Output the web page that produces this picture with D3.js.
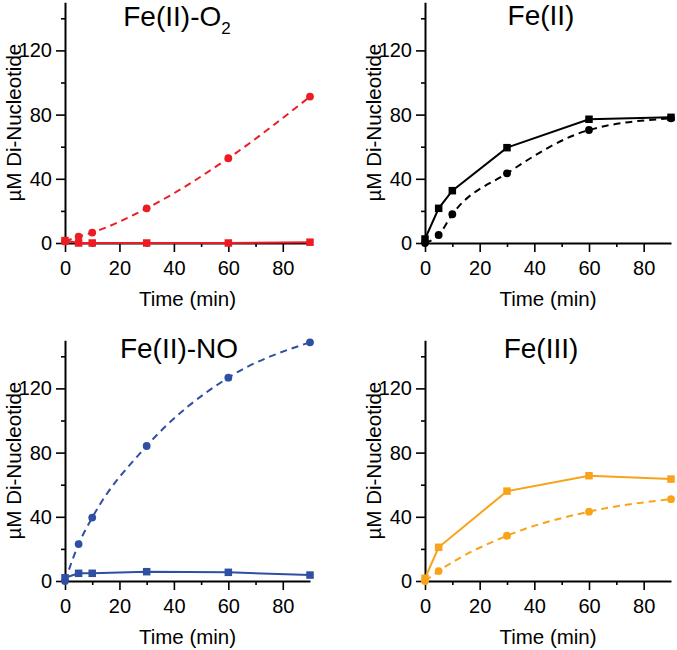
<!DOCTYPE html>
<html>
<head>
<meta charset="utf-8">
<script src="https://cdn.jsdelivr.net/npm/d3@7"></script>
<style>
  html, body { margin: 0; padding: 0; background: #fff; }
  svg { display: block; }
  text { font-family: "Liberation Sans", Arial, Helvetica, sans-serif; fill: #000; }
</style>
</head>
<body>
<svg id="chart" width="677" height="650"></svg>
<script>
// ---- data ----
const times = [0, 5, 10, 30, 60, 90];
const timesFe3 = [0, 5, 30, 60, 90];

const o2Dashed  = [1, 4, 6.5, 21.6, 52.8, 91.2];
const o2Solid   = [1.5, 0, 0, 0, 0, 0.5];
const fe2Dashed = [0, 5, 17.9, 43.4, 70.4, 77.7];
const fe2Solid  = [2.5, 21.6, 32.6, 59.4, 77.1, 78.3];
const noDashed  = [0, 23, 39.5, 84.1, 126.7, 148.7];
const noSolid   = [2, 4.8, 4.8, 5.8, 5.4, 3.7];
const fe3Dashed = [0, 6.2, 28.2, 43.2, 51];
const fe3Solid  = [1.7, 21, 56, 65.6, 63.5];

const yMajorTicks = [0, 40, 80, 120];
const yMinorTicks = [20, 60, 100, 140];
const xMajorTicks = [0, 20, 40, 60, 80];
const xMinorTicks = [10, 30, 50, 70];

const xLabel = "Time (min)";
const yLabel = "µM Di-Nucleotide";

const panels = [
  { title: "Fe(II)-O", sub: "2", color: "#ec1c24", t: times, dashed: o2Dashed, solid: o2Solid,
    x0: 65, x1: 310, y0: 243, titleX: 177, titleY: 26 },
  { title: "Fe(II)", sub: null, color: "#000000", t: times, dashed: fe2Dashed, solid: fe2Solid,
    x0: 425, x1: 671, y0: 243, titleX: 541, titleY: 25 },
  { title: "Fe(II)-NO", sub: null, color: "#2f4fa2", t: times, dashed: noDashed, solid: noSolid,
    x0: 65, x1: 310, y0: 581, titleX: 179, titleY: 358 },
  { title: "Fe(III)", sub: null, color: "#f9a31b", t: timesFe3, dashed: fe3Dashed, solid: fe3Solid,
    x0: 425, x1: 671, y0: 581, titleX: 541, titleY: 358 }
];

const svg = d3.select("#chart");
const pxPerUnit = 1.605;

panels.forEach(p => {
  const x = d3.scaleLinear().domain([0, 90]).range([p.x0, p.x1]);
  const y = d3.scaleLinear().domain([0, 150]).range([p.y0, p.y0 - 150 * pxPerUnit]);
  const g = svg.append("g");

  // y axis
  const yMaj = g.append("g").attr("transform", `translate(${p.x0},0)`)
    .call(d3.axisLeft(y).tickValues(yMajorTicks).tickSize(9).tickSizeOuter(0).tickPadding(4).tickFormat(d3.format("d")));
  const yMin = g.append("g").attr("transform", `translate(${p.x0},0)`)
    .call(d3.axisLeft(y).tickValues(yMinorTicks).tickSize(4).tickSizeOuter(0).tickFormat(""));
  yMin.select(".domain").remove();

  // x axis
  const xMaj = g.append("g").attr("transform", `translate(0,${p.y0})`)
    .call(d3.axisBottom(x).tickValues(xMajorTicks).tickSize(9).tickSizeOuter(0).tickPadding(9).tickFormat(d3.format("d")));
  const xMin = g.append("g").attr("transform", `translate(0,${p.y0})`)
    .call(d3.axisBottom(x).tickValues(xMinorTicks).tickSize(4).tickSizeOuter(0).tickFormat(""));
  xMin.select(".domain").remove();

  g.selectAll(".domain").attr("stroke", "#000").attr("stroke-width", 2);
  g.selectAll(".tick line").attr("stroke", "#000").attr("stroke-width", 1.6);
  g.selectAll(".tick text").attr("font-size", 20).attr("font-family", "'Liberation Sans', Arial, sans-serif").attr("fill", "#000");

  // axis titles
  g.append("text")
    .attr("x", (p.x0 + p.x1) / 2)
    .attr("y", p.y0 + 63)
    .attr("text-anchor", "middle")
    .attr("font-size", 20.5)
    .text(xLabel);
  g.append("text")
    .attr("transform", `translate(${p.x0 - 44},${(y(0) + y(150)) / 2}) rotate(-90)`)
    .attr("text-anchor", "middle")
    .attr("font-size", 20.5)
    .text(yLabel);

  // title
  const tt = g.append("text")
    .attr("x", p.titleX)
    .attr("y", p.titleY)
    .attr("text-anchor", "middle")
    .attr("font-size", 28);
  tt.append("tspan").text(p.title);
  if (p.sub) {
    tt.append("tspan").attr("font-size", 17).attr("dy", 8).text(p.sub);
  }

  // dashed series (circles)
  const dData = p.t.map((t, i) => [t, p.dashed[i]]);
  const sData = p.t.map((t, i) => [t, p.solid[i]]);

  g.append("path")
    .datum(dData)
    .attr("fill", "none")
    .attr("stroke", p.color)
    .attr("stroke-width", 2)
    .attr("stroke-dasharray", "7,5")
    .attr("d", d3.line().x(d => x(d[0])).y(d => y(d[1])).curve(d3.curveMonotoneX));

  g.append("path")
    .datum(sData)
    .attr("fill", "none")
    .attr("stroke", p.color)
    .attr("stroke-width", 2)
    .attr("d", d3.line().x(d => x(d[0])).y(d => y(d[1])));

  g.selectAll(".circ").data(dData).enter().append("circle")
    .attr("cx", d => x(d[0]))
    .attr("cy", d => y(d[1]))
    .attr("r", 3.9)
    .attr("fill", p.color);

  const s = 7.5;
  g.selectAll(".sq").data(sData).enter().append("rect")
    .attr("x", d => x(d[0]) - s / 2)
    .attr("y", d => y(d[1]) - s / 2)
    .attr("width", s)
    .attr("height", s)
    .attr("fill", p.color);
});
</script>
</body>
</html>
